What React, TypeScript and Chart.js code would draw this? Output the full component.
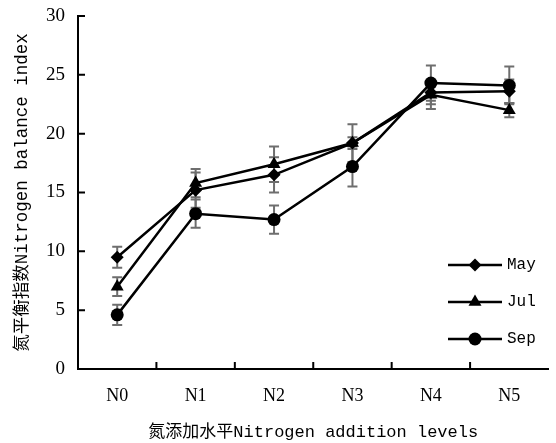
import React, { useEffect, useRef } from "react";
import { Chart, registerables } from "chart.js";

Chart.register(...registerables);

const categories = ["N0", "N1", "N2", "N3", "N4", "N5"];
const seriesNames = ["May", "Jul", "Sep"];
const mayValues = [9.5, 15.2, 16.5, 19.2, 23.5, 23.6];
const julValues = [7.0, 15.8, 17.4, 19.2, 23.3, 22.0];
const sepValues = [4.6, 13.2, 12.7, 17.2, 24.3, 24.1];
const mayErrors = [0.9, 1.5, 1.5, 1.6, 1.0, 1.0];
const julErrors = [0.8, 1.2, 1.5, 0.5, 1.2, 0.6];
const sepErrors = [0.85, 1.2, 1.2, 1.7, 1.5, 1.6];
const yTicks = [0, 5, 10, 15, 20, 25, 30];

const MONO = "'Liberation Mono', 'Noto Sans CJK SC', monospace";
const SERIF = "'Liberation Serif', 'DejaVu Serif', serif";

function drawMarker(ctx: CanvasRenderingContext2D, style: string, x: number, y: number, r: number) {
  ctx.beginPath();
  if (style === "rectRot") {
    ctx.moveTo(x - r, y);
    ctx.lineTo(x, y - r);
    ctx.lineTo(x + r, y);
    ctx.lineTo(x, y + r);
    ctx.closePath();
  } else if (style === "triangle") {
    const h = r * 1.5;
    const half = r * Math.sin(Math.PI / 3);
    ctx.moveTo(x, y - r);
    ctx.lineTo(x + half, y - r + h);
    ctx.lineTo(x - half, y - r + h);
    ctx.closePath();
  } else {
    ctx.arc(x, y, r, 0, Math.PI * 2);
  }
  ctx.fillStyle = "#000";
  ctx.fill();
}

const errorBarPlugin = {
  id: "errorBars",
  beforeDatasetsDraw(chart: any) {
    const ctx = chart.ctx;
    const yScale = chart.scales.y;
    const xScale = chart.scales.x;
    ctx.save();
    ctx.strokeStyle = "#6e6e6e";
    ctx.lineWidth = 2;
    chart.data.datasets.forEach((ds: any) => {
      ds.data.forEach((v: number, i: number) => {
        const e = ds.errors[i];
        const x = xScale.getPixelForValue(i);
        const yt = yScale.getPixelForValue(v + e);
        const yb = yScale.getPixelForValue(v - e);
        ctx.beginPath();
        ctx.moveTo(x, yt);
        ctx.lineTo(x, yb);
        ctx.moveTo(x - 5, yt);
        ctx.lineTo(x + 5, yt);
        ctx.moveTo(x - 5, yb);
        ctx.lineTo(x + 5, yb);
        ctx.stroke();
      });
    });
    ctx.restore();
  },
};

const axisTicksPlugin = {
  id: "axisTicks",
  afterDraw(chart: any) {
    const ctx = chart.ctx;
    const { left, bottom } = chart.chartArea;
    const yScale = chart.scales.y;
    const xScale = chart.scales.x;
    ctx.save();
    ctx.strokeStyle = "#000";
    ctx.lineWidth = 2;
    ctx.beginPath();
    yScale.ticks.forEach((t: any) => {
      const y = yScale.getPixelForValue(t.value);
      ctx.moveTo(left, y);
      ctx.lineTo(left + 7, y);
    });
    const n = chart.data.labels.length;
    for (let i = 0; i < n - 1; i++) {
      const x = (xScale.getPixelForValue(i) + xScale.getPixelForValue(i + 1)) / 2;
      ctx.moveTo(x, bottom);
      ctx.lineTo(x, bottom - 7);
    }
    ctx.stroke();
    ctx.restore();
  },
};

const legendPlugin = {
  id: "customLegend",
  afterDraw(chart: any) {
    const ctx = chart.ctx;
    const rows = [265, 302, 339];
    ctx.save();
    chart.data.datasets.forEach((ds: any, i: number) => {
      const y = rows[i];
      ctx.strokeStyle = "#000";
      ctx.lineWidth = 2.5;
      ctx.beginPath();
      ctx.moveTo(448, y);
      ctx.lineTo(502, y);
      ctx.stroke();
      drawMarker(ctx, ds.pointStyle, 475, y, ds.pointRadius);
      ctx.fillStyle = "#000";
      ctx.font = `16px ${MONO}`;
      ctx.textBaseline = "middle";
      ctx.textAlign = "left";
      ctx.fillText(ds.label, 507, y);
    });
    ctx.restore();
  },
};

export default function App() {
  const ref = useRef<HTMLCanvasElement | null>(null);
  useEffect(() => {
    document.body.style.margin = "0";
    if (!ref.current) return;
    const mk = (label: string, data: number[], errors: number[], style: string, r: number) => ({
      label,
      data,
      errors,
      borderColor: "#000",
      backgroundColor: "#000",
      borderWidth: 2.5,
      pointStyle: style,
      pointRadius: r,
      pointBorderWidth: 0,
      pointBackgroundColor: "#000",
      tension: 0,
      fill: false,
    });
    const chart = new Chart(ref.current, {
      type: "line",
      data: {
        labels: categories,
        datasets: [
          mk(seriesNames[0], mayValues, mayErrors, "rectRot", 6.5),
          mk(seriesNames[1], julValues, julErrors, "triangle", 7.5),
          mk(seriesNames[2], sepValues, sepErrors, "circle", 6.5),
        ] as any,
      },
      options: {
        animation: false,
        responsive: false,
        layout: { padding: { top: 16, right: 5, bottom: 0, left: 0 } },
        plugins: { legend: { display: false }, tooltip: { enabled: false } },
        scales: {
          x: {
            type: "category",
            offset: true,
            grid: { display: false, drawTicks: false },
            border: { display: true, color: "#000", width: 2 },
            ticks: { color: "#000", font: { family: SERIF, size: 18 }, padding: 16 },
            title: {
              display: true,
              text: "氮添加水平Nitrogen addition levels",
              color: "#000",
              font: { family: MONO, size: 17 },
              padding: { top: 0, bottom: 0 },
            },
            afterFit(scale: any) {
              scale.height = 74;
              scale.paddingLeft = 0;
              scale.paddingRight = 0;
            },
          },
          y: {
            min: 0,
            max: 30,
            afterBuildTicks(scale: any) {
              scale.ticks = yTicks.map((v) => ({ value: v }));
            },
            grid: { display: false, drawTicks: false },
            border: { display: true, color: "#000", width: 2 },
            ticks: { color: "#000", font: { family: SERIF, size: 19 }, padding: 13 },
            title: {
              display: true,
              text: "氮平衡指数Nitrogen balance index",
              color: "#000",
              font: { family: MONO, size: 17.5 },
              padding: { top: 12, bottom: 0 },
            },
            afterFit(scale: any) {
              scale.width = 78;
              scale.paddingTop = 0;
              scale.paddingBottom = 0;
            },
          },
        },
      },
      plugins: [errorBarPlugin, axisTicksPlugin, legendPlugin],
    } as any);
    return () => chart.destroy();
  }, []);
  return (
    <div style={{ position: "fixed", left: 0, top: 0, width: 556, height: 443, background: "#fff" }}>
      <canvas ref={ref} width={556} height={443} />
    </div>
  );
}
